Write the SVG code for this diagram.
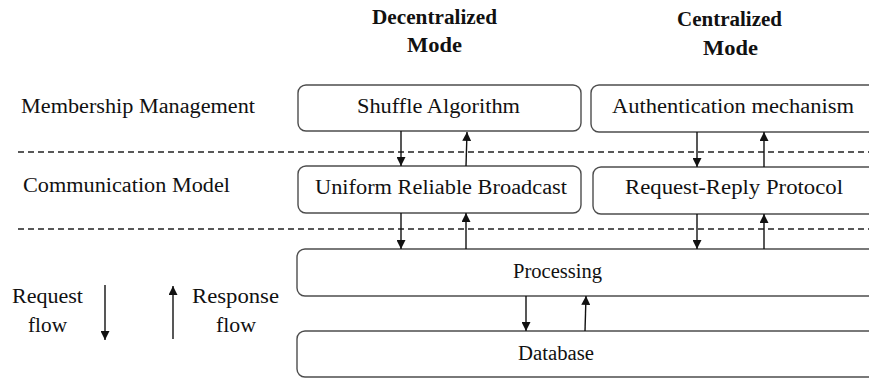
<svg xmlns="http://www.w3.org/2000/svg" width="869" height="378" viewBox="0 0 869 378">
  <style>
    .box { fill: #ffffff; stroke: #4d4d4d; stroke-width: 1.4; }
    .lbl { font-family: "Liberation Serif", "Times New Roman", serif; font-size: 20px; fill: #111111; }
    .mid { text-anchor: middle; }
    .hdr { font-family: "Liberation Serif", "Times New Roman", serif; font-size: 20px; font-weight: bold; fill: #111111; text-anchor: middle; }
    .sep { stroke: #222222; stroke-width: 1.3; stroke-dasharray: 6 4; fill: none; }
    .arr { stroke: #111111; stroke-width: 1.4; fill: none; marker-end: url(#head); }
  </style>
  <defs>
    <marker id="head" viewBox="0 0 10 10" refX="10" refY="5" markerWidth="10" markerHeight="9" markerUnits="userSpaceOnUse" orient="auto">
      <path d="M0,0 L10,5 L0,10 Z" fill="#111111"/>
    </marker>
  </defs>

  <!-- column headers -->
  <text class="hdr" x="434.5" y="24" textLength="125" lengthAdjust="spacingAndGlyphs">Decentralized</text>
  <text class="hdr" x="434.5" y="52" textLength="55" lengthAdjust="spacingAndGlyphs">Mode</text>
  <text class="hdr" x="729.5" y="26" textLength="105" lengthAdjust="spacingAndGlyphs">Centralized</text>
  <text class="hdr" x="730.5" y="55" textLength="55" lengthAdjust="spacingAndGlyphs">Mode</text>

  <!-- layer labels -->
  <text class="lbl" x="21" y="113" textLength="234" lengthAdjust="spacingAndGlyphs">Membership Management</text>
  <text class="lbl" x="23" y="192" textLength="207" lengthAdjust="spacingAndGlyphs">Communication Model</text>

  <!-- layer separators -->
  <line class="sep" x1="18" y1="152" x2="869" y2="152"/>
  <line class="sep" x1="18" y1="229" x2="869" y2="229"/>

  <!-- nodes -->
  <g id="shuffle">
    <rect class="box" x="298" y="85" width="283" height="46" rx="8"/>
    <text class="lbl mid" x="438.5" y="113" textLength="163" lengthAdjust="spacingAndGlyphs">Shuffle Algorithm</text>
  </g>
  <g id="auth">
    <rect class="box" x="591" y="85" width="290" height="47" rx="8"/>
    <text class="lbl mid" x="733" y="113" textLength="242" lengthAdjust="spacingAndGlyphs">Authentication mechanism</text>
  </g>
  <g id="urb">
    <rect class="box" x="298" y="166" width="283" height="47" rx="8"/>
    <text class="lbl mid" x="441" y="194" textLength="252" lengthAdjust="spacingAndGlyphs">Uniform Reliable Broadcast</text>
  </g>
  <g id="rrp">
    <rect class="box" x="593" y="167" width="290" height="47" rx="8"/>
    <text class="lbl mid" x="734" y="194" textLength="218" lengthAdjust="spacingAndGlyphs">Request-Reply Protocol</text>
  </g>
  <g id="processing">
    <rect class="box" x="297" y="249" width="590" height="47" rx="8"/>
    <text class="lbl mid" x="557.5" y="278" textLength="89" lengthAdjust="spacingAndGlyphs">Processing</text>
  </g>
  <g id="database">
    <rect class="box" x="297" y="331" width="590" height="46" rx="8"/>
    <text class="lbl mid" x="556" y="360" textLength="76" lengthAdjust="spacingAndGlyphs">Database</text>
  </g>

  <!-- legend -->
  <g id="legend">
    <text class="lbl mid" x="47.5" y="303" textLength="71" lengthAdjust="spacingAndGlyphs">Request</text>
    <text class="lbl mid" x="47.5" y="332" textLength="39" lengthAdjust="spacingAndGlyphs">flow</text>
    <line class="arr" x1="105" y1="285" x2="105" y2="340"/>
    <line class="arr" x1="173" y1="339" x2="173" y2="286"/>
    <text class="lbl mid" x="235.5" y="303" textLength="87" lengthAdjust="spacingAndGlyphs">Response</text>
    <text class="lbl mid" x="236" y="332" textLength="40" lengthAdjust="spacingAndGlyphs">flow</text>
  </g>

  <!-- connectors -->
  <g id="connectors">
    <line class="arr" x1="401" y1="131" x2="401" y2="166"/>
    <line class="arr" x1="466" y1="166" x2="467" y2="132"/>
    <line class="arr" x1="697" y1="132" x2="697" y2="167"/>
    <line class="arr" x1="764" y1="167" x2="764" y2="132"/>
    <line class="arr" x1="401" y1="213" x2="401" y2="249"/>
    <line class="arr" x1="466" y1="249" x2="466" y2="213"/>
    <line class="arr" x1="697" y1="214" x2="697" y2="249"/>
    <line class="arr" x1="764" y1="249" x2="764" y2="214"/>
    <line class="arr" x1="526" y1="296" x2="526" y2="331"/>
    <line class="arr" x1="585" y1="331" x2="586" y2="296"/>
  </g>
</svg>
